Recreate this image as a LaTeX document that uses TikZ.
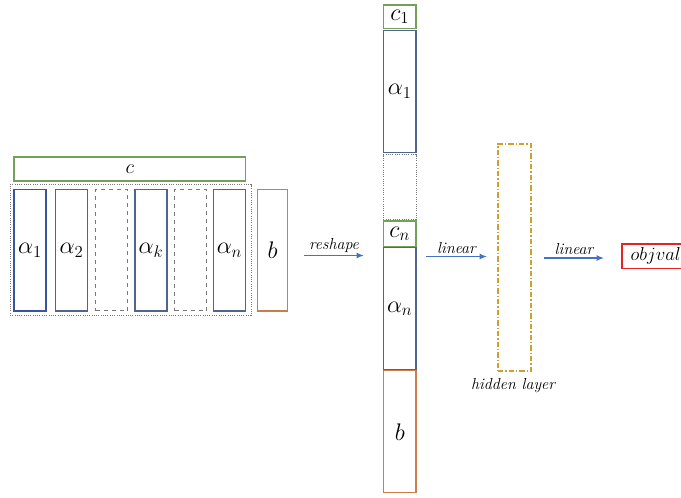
\documentclass[tikz,border=0pt]{standalone}
\usepackage{fix-cm}
\usetikzlibrary{arrows.meta}
\definecolor{cgreen}{RGB}{118,160,90}
\definecolor{cblue}{RGB}{80,100,145}
\definecolor{cblueb}{RGB}{55,85,160}
\definecolor{cgray}{RGB}{120,120,120}
\definecolor{corange}{RGB}{205,125,75}
\definecolor{cgold}{RGB}{210,160,40}
\definecolor{cred}{RGB}{230,35,35}
\definecolor{carrow}{RGB}{68,114,196}
\begin{document}
\begin{tikzpicture}[x=0.75pt,y=-0.75pt,
  box/.style={draw, line width=1pt, inner sep=0pt, outer sep=0pt, fill=white},
  col/.style={box, minimum width=24pt, minimum height=91pt},
  mcol/.style={box, minimum width=24.4pt, minimum height=91.5pt},
  avec/.style={draw=cblue},
  cvec/.style={draw=cgreen},
  bvec/.style={draw=corange},
  ghost/.style={draw=cgray, dashed, line width=0.7pt},
  dotbox/.style={draw=cgray, densely dotted, line width=0.7pt, inner sep=0pt},
  conn/.style={draw=carrow, line width=1pt, -{Latex[length=5.5pt,width=4.5pt]}},
  lbl/.style={font=\fontsize{12}{14}\selectfont\itshape, inner sep=1pt},
  big/.style={font=\fontsize{18}{20}\selectfont}]
\clip (0,0) rectangle (681,497);
% left group
\node[dotbox, minimum width=180.75pt, minimum height=98.25pt] (grp) at (130.5,250) {};
\node[box, cvec, minimum width=173.6pt, minimum height=18pt, font=\fontsize{15}{17}\selectfont] (c) at (129.75,169) {$c$};
\node[col, avec, draw=cblueb, big] (a1) at (30,250.25) {$\alpha_1$};
\node[col, avec, big] (a2) at (71.5,250.25) {$\alpha_2$};
\node[col, ghost] (g1) at (111.5,250.25) {};
\node[col, avec, big] (ak) at (151,250.25) {$\alpha_k$};
\node[col, ghost] (g2) at (190.5,250.25) {};
\node[col, avec, big] (an) at (229.5,250.25) {$\alpha_n$};
\node[box, bvec, minimum width=22.5pt, minimum height=91pt, big] (bl) at (272.5,250.25) {$b$};
% middle column
\node[box, cvec, minimum width=24.4pt, minimum height=17.6pt, big] (c1) at (399.75,16.75) {$c_1$};
\node[mcol, avec, big] (ma1) at (399.75,91.25) {$\alpha_1$};
\node[dotbox, minimum width=24.4pt, minimum height=48.75pt] (md) at (399.75,187) {};
\node[box, cvec, minimum width=24.4pt, minimum height=19.1pt, big] (cn) at (399.75,233.75) {$c_n$};
\node[mcol, avec, big] (man) at (399.75,308.75) {$\alpha_n$};
\node[mcol, bvec, big] (mb) at (399.75,431.75) {$b$};
% reshape arrow
\coordinate (r0) at (304,255.5);
\coordinate (r1) at (364,255.5);
\draw[conn] (r0) -- node[lbl, above=1pt] (rl) {reshape} (r1);
% linear 1
\coordinate (l0) at (426,256.5);
\coordinate (l1) at (487,256.5);
\draw[conn] (l0) -- node[lbl, above=1pt] (ll1) {linear} (l1);
% hidden layer
\node[box, draw=cgold, dash pattern=on 4pt off 1.5pt on 1pt off 1.5pt, minimum width=24.75pt, minimum height=170.25pt] (hid) at (514.5,257.5) {};
\node[lbl] (hl) at (513,386) {hidden layer};
% linear 2
\coordinate (m0) at (544,258);
\coordinate (m1) at (604,258);
\draw[conn] (m0) -- node[lbl, above=1pt] (ll2) {linear} (m1);
% objval
\node[box, draw=cred, minimum width=52.5pt, minimum height=18.4pt, anchor=west, font=\fontsize{14}{16}\selectfont, text width=52.5pt, align=left] (ov) at (622,256.25) {\hspace*{6.5pt}$objval$};
\end{tikzpicture}
\end{document}
